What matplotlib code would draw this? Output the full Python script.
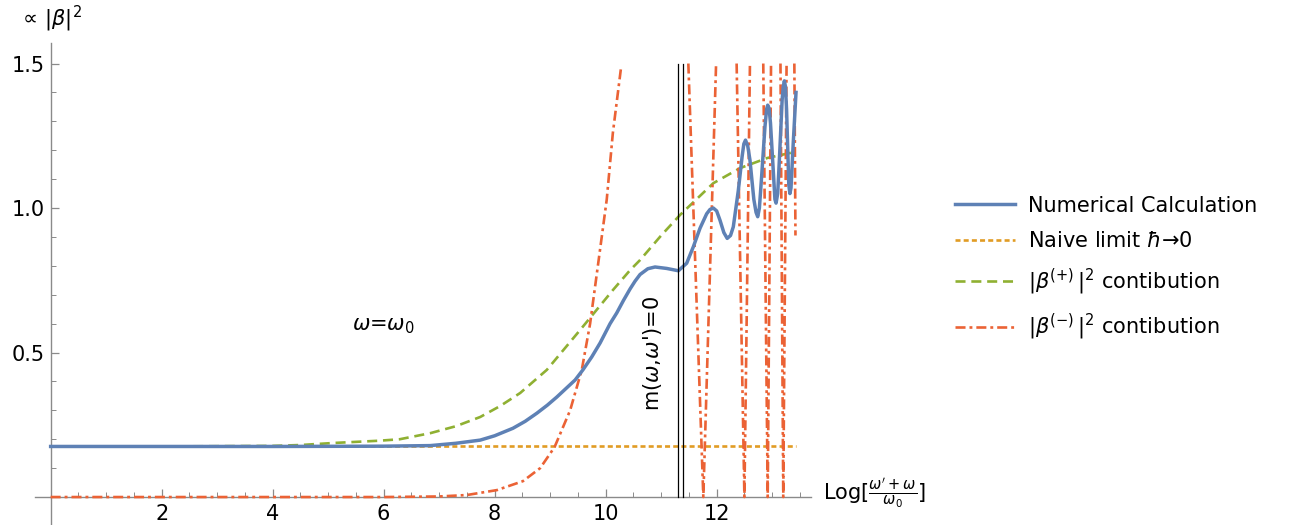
import numpy as np
import matplotlib
matplotlib.use('Agg')
import matplotlib.pyplot as plt
from matplotlib.ticker import MultipleLocator, FixedLocator

plt.rcParams['font.family'] = ['DejaVu Sans']
plt.rcParams['mathtext.fontset'] = 'dejavusans'

# values
# numerical calculation (blue solid)
blue_x = [0, 2, 4, 6, 6.84, 7.3, 7.74, 8.0, 8.33, 8.55, 8.76, 8.95, 9.12, 9.45, 9.59,
          9.75, 9.90, 10.08, 10.20, 10.32, 10.44, 10.53, 10.62, 10.76, 10.89, 11.10,
          11.31, 11.46, 11.58, 11.70, 11.82, 11.88, 11.94, 12.00, 12.06, 12.13, 12.19,
          12.25, 12.30, 12.39, 12.46, 12.49, 12.52, 12.56, 12.60, 12.67, 12.71, 12.74,
          12.77, 12.81, 12.87, 12.90, 12.92, 12.945, 12.97, 13.02, 13.05, 13.07, 13.10,
          13.13, 13.18, 13.20, 13.22, 13.24, 13.26, 13.30, 13.32, 13.34, 13.38, 13.43]
blue_y = [0.175, 0.175, 0.175, 0.176, 0.178, 0.186, 0.197, 0.212, 0.238, 0.262, 0.29,
          0.318, 0.346, 0.405, 0.44, 0.485, 0.533, 0.60, 0.637, 0.68, 0.72, 0.747, 0.77,
          0.79, 0.796, 0.791, 0.783, 0.809, 0.866, 0.93, 0.98, 0.995, 1.0, 0.99, 0.958,
          0.915, 0.895, 0.905, 0.935, 1.06, 1.18, 1.222, 1.235, 1.215, 1.166, 1.03, 0.985,
          0.97, 1.0, 1.108, 1.28, 1.342, 1.356, 1.345, 1.294, 1.13, 1.03, 1.017, 1.05,
          1.166, 1.374, 1.42, 1.44, 1.42, 1.34, 1.08, 1.05, 1.07, 1.225, 1.40]

# naive limit (orange dotted)
naive_x = [0, 13.43]
naive_y = [0.175, 0.175]

# |beta(+)|^2 contribution (green dashed)
plus_x = [0, 2, 4, 4.5, 5.09, 5.93, 6.29, 6.84, 7.3, 7.74, 8.1, 8.46, 8.94, 9.54,
          10.13, 10.44, 10.62, 11.0, 11.34, 11.94, 12.42, 12.91, 13.43]
plus_y = [0.175, 0.175, 0.177, 0.18, 0.187, 0.195, 0.20, 0.221, 0.245, 0.277, 0.315,
          0.36, 0.44, 0.578, 0.716, 0.785, 0.82, 0.905, 0.976, 1.086, 1.138, 1.173, 1.195]

# |beta(-)|^2 contribution (red dash-dot), clipped at the top of the plot range
minus_x = [0, 2, 4, 6, 7.0, 7.5, 8.04, 8.51, 8.82, 9.08, 9.36, 9.57, 9.72, 9.86, 10.02,
           10.13, 10.28, np.nan,
           11.49, 11.76, 11.99, np.nan,
           12.36, 12.50, 12.60, np.nan,
           12.84, 12.92, 12.98, np.nan,
           13.15, 13.20, 13.26, np.nan,
           13.40, 13.42]
minus_y = [0, 0, 0, 0, 0.002, 0.007, 0.024, 0.055, 0.10, 0.173, 0.30, 0.44, 0.60, 0.80,
           1.03, 1.26, 1.49, np.nan,
           1.5, 0, 1.5, np.nan,
           1.5, 0, 1.5, np.nan,
           1.5, 0, 1.5, np.nan,
           1.5, 0, 1.5, np.nan,
           1.5, 0.905]

mzero_x = [11.30, 11.40]   # m(w,w')=0 markers

c_blue = '#5E81B5'
c_orange = '#E19C24'
c_green = '#8FB032'
c_red = '#EB6235'

fig = plt.figure(figsize=(13.02, 5.25), dpi=100)
ax = fig.add_axes([35.1 / 1302, 0.5 / 525, (811 - 35.1) / 1302, (524.5 - 43.3) / 525])
ax.set_xlim(-0.28, 13.7)
ax.set_ylim(-0.095, 1.57)

ax.plot(blue_x, blue_y, color=c_blue, lw=2.5, label='Numerical Calculation',
        solid_joinstyle='round', zorder=4)
ax.plot(naive_x, naive_y, color=c_orange, lw=1.9, dashes=(1.9, 1.2),
        label=r'Naive limit $\hbar$→0', zorder=3)
ax.plot(plus_x, plus_y, color=c_green, lw=1.9, dashes=(3.8, 2.2),
        label=r'$|\beta^{(+)}\,|^2$ contibution', zorder=3)
ax.plot(minus_x, minus_y, color=c_red, lw=1.9, dashes=(3.8, 1.5, 1.1, 1.5),
        label=r'$|\beta^{(-)}\,|^2$ contibution', zorder=3)
for xv in mzero_x:
    ax.plot([xv, xv], [0, 1.5], color='black', lw=0.9, zorder=5)

ax.text(10.84, 0.498, r"m($\omega$,$\omega$')=0", rotation=90, fontsize=15,
        ha='center', va='center')
ax.text(5.99, 0.592, r'$\omega$=$\omega_0$', fontsize=15, ha='center', va='center')
ax.text(13.92, 0.012, r"Log[$\frac{\omega^{\prime}+\omega}{\omega_0}$]", fontsize=15,
        ha='left', va='center', clip_on=False)
fig.text(18 / 1302, 1 - 19 / 525, r'$\propto\,|\beta|^2$', fontsize=15, ha='left', va='center')

# mathematica style axes through the origin
for s in ['top', 'right']:
    ax.spines[s].set_visible(False)
ax.spines['left'].set_position(('data', 0))
ax.spines['bottom'].set_position(('data', 0))
for s in ['left', 'bottom']:
    ax.spines[s].set_color('#8a8a8a')
    ax.spines[s].set_linewidth(1.0)

ax.xaxis.set_major_locator(FixedLocator([2, 4, 6, 8, 10, 12]))
ax.xaxis.set_minor_locator(MultipleLocator(0.5))
ax.yaxis.set_major_locator(FixedLocator([0.5, 1.0, 1.5]))
ax.yaxis.set_minor_locator(MultipleLocator(0.1))
ax.set_xticklabels(['2', '4', '6', '8', '10', '12'])
ax.set_yticklabels(['0.5', '1.0', '1.5'])
ax.tick_params(which='both', direction='in', color='#8a8a8a', labelsize=15)
ax.tick_params(which='major', length=6, width=0.9)
ax.tick_params(which='minor', length=3.5, width=0.7)
ax.tick_params(axis='x', pad=5)
ax.tick_params(axis='y', pad=4)

fig.legend(loc='center left', bbox_to_anchor=(955 / 1302, 1 - 269 / 525), frameon=False,
           fontsize=15, handlelength=2.9, handletextpad=0.6, borderpad=0,
           borderaxespad=0, labelspacing=0.74)

fig.savefig('out.png', dpi=100)
